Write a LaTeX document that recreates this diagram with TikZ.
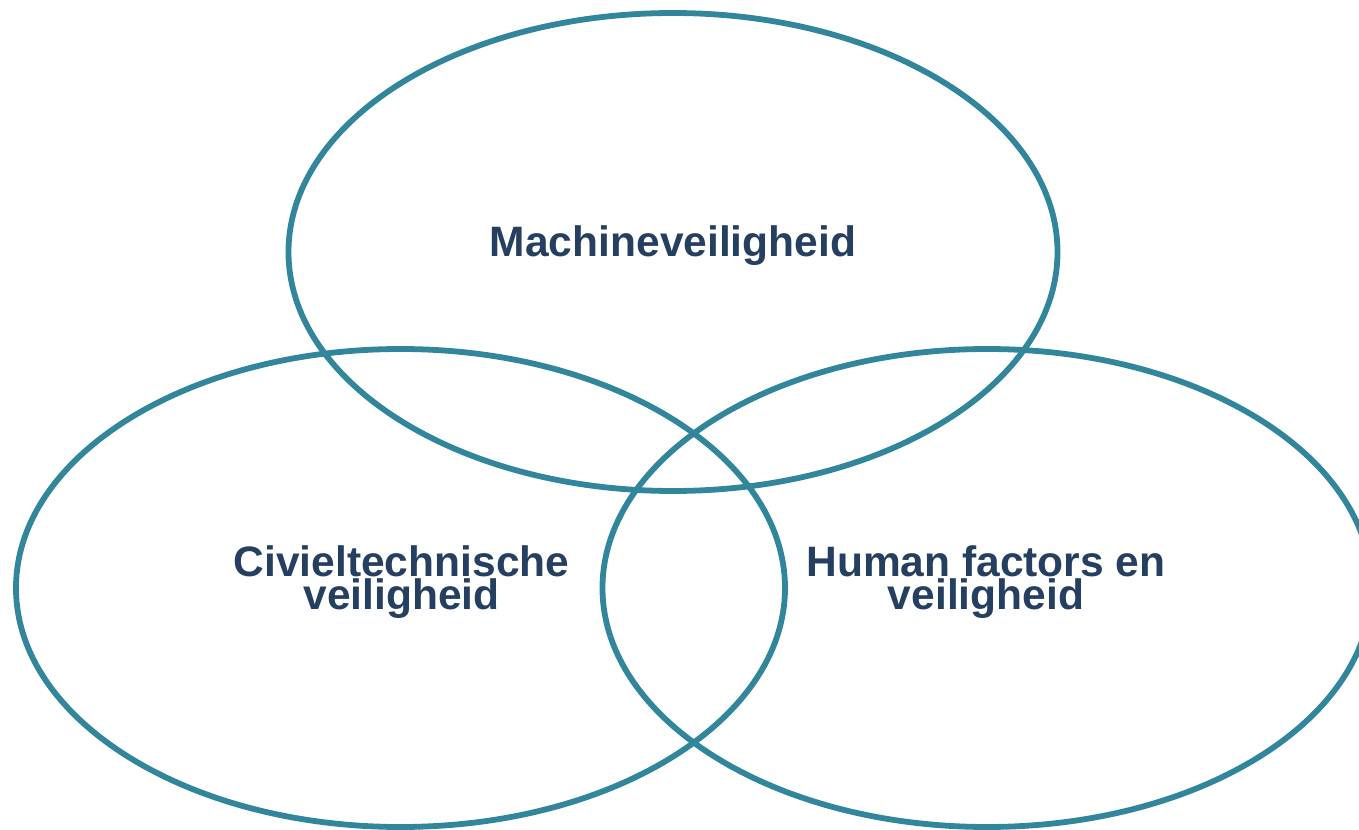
\documentclass[tikz,border=0pt]{standalone}
\usepackage{fontspec}
\setmainfont{Liberation Sans}
\usepackage{tikz}
\usetikzlibrary{positioning,shapes.geometric}

\definecolor{ringteal}{HTML}{31869B}
\definecolor{labelnavy}{HTML}{243F60}

\begin{document}
\begin{tikzpicture}[
    area/.style={draw=ringteal, line width=3.3pt, ellipse, inner sep=0pt,
        minimum width=15.38cm, minimum height=9.56cm},
    label/.style={text=labelnavy, align=center,
        font=\bfseries\fontsize{24.2}{17.2}\selectfont}
]

% Frame
\useasboundingbox (0,0) rectangle (27.18,-16.6);

% Areas
\node[area] (machine) at (13.46,-5.04) {};
\node[area] (civil) at (8.01,-11.76) {};
\node[area] (human) at (19.74,-11.76) {};

% Labels
\node[label] (machinetext) at (13.46,-4.92) {Machineveiligheid};
\node[label] (civiltext) at (8.03,-11.64) {Civieltechnische\\veiligheid};
\node[label] (humantext) at (19.72,-11.64) {Human factors en\\veiligheid};

\end{tikzpicture}
\end{document}
